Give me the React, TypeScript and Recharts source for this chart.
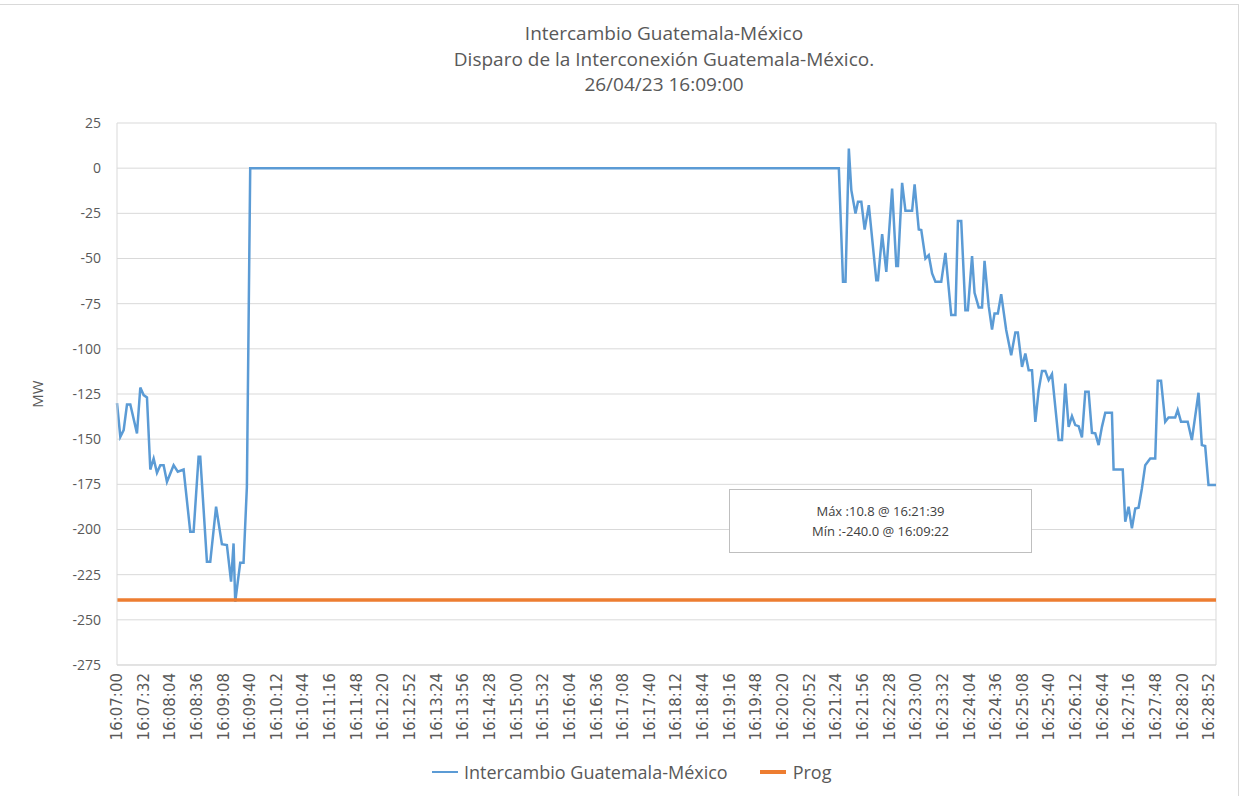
import { LineChart, Line, XAxis, YAxis, CartesianGrid, ReferenceLine } from "recharts";

// time stamps of the points (HH:MM:SS)
const times = [
  "16:07:00", "16:07:04", "16:07:08", "16:07:12", "16:07:16", "16:07:24", "16:07:28", "16:07:32",
  "16:07:36", "16:07:40", "16:07:44", "16:07:48", "16:07:52", "16:07:56", "16:08:00", "16:08:08",
  "16:08:13", "16:08:20", "16:08:28", "16:08:32", "16:08:38", "16:08:40", "16:08:48", "16:08:52",
  "16:08:59", "16:09:06", "16:09:12", "16:09:17", "16:09:20", "16:09:22", "16:09:28", "16:09:32",
  "16:09:36", "16:09:40", "16:21:27", "16:21:32", "16:21:35", "16:21:39", "16:21:42", "16:21:47",
  "16:21:50", "16:21:54", "16:21:58", "16:22:03", "16:22:12", "16:22:14", "16:22:19", "16:22:24",
  "16:22:31", "16:22:36", "16:22:38", "16:22:43", "16:22:47", "16:22:55", "16:22:58", "16:23:03",
  "16:23:06", "16:23:11", "16:23:15", "16:23:19", "16:23:23", "16:23:30", "16:23:35", "16:23:42",
  "16:23:47", "16:23:50", "16:23:54", "16:23:59", "16:24:02", "16:24:07", "16:24:10", "16:24:15",
  "16:24:19", "16:24:22", "16:24:27", "16:24:31", "16:24:34", "16:24:38", "16:24:42", "16:24:48",
  "16:24:54", "16:24:59", "16:25:02", "16:25:07", "16:25:11", "16:25:15", "16:25:19", "16:25:23",
  "16:25:27", "16:25:31", "16:25:35", "16:25:39", "16:25:43", "16:25:51", "16:25:55", "16:25:59",
  "16:26:03", "16:26:07", "16:26:11", "16:26:15", "16:26:19", "16:26:23", "16:26:27", "16:26:31",
  "16:26:35", "16:26:39", "16:26:43", "16:26:47", "16:26:55", "16:26:57", "16:27:08", "16:27:11",
  "16:27:15", "16:27:19", "16:27:23", "16:27:27", "16:27:31", "16:27:35", "16:27:41", "16:27:47",
  "16:27:50", "16:27:54", "16:27:59", "16:28:03", "16:28:11", "16:28:14", "16:28:18", "16:28:26",
  "16:28:31", "16:28:39", "16:28:43", "16:28:47", "16:28:51", "16:29:00"
];

// Intercambio Guatemala-México (MW)
const intercambio = [
  -130, -148.7, -145, -130.8, -130.8, -146.8, -121.4, -125.6,
  -126.9, -166.8, -160.7, -168.6, -164.4, -164.4, -173.6, -164.4,
  -168, -166.8, -201.3, -201.3, -159.7, -159.7, -217.9, -217.9,
  -187.4, -208.1, -208.6, -228.9, -207.7, -240, -218.4, -218.4,
  -176.4, 0, 0, -62.9, -62.9, 10.8, -12.2, -25.1,
  -18.6, -18.6, -34, -20.5, -62, -62, -36.5, -57.4,
  -11.3, -54.2, -54.2, -8.1, -23.6, -23.6, -8.9, -34,
  -34.3, -50, -48.1, -58.3, -62.9, -62.9, -46.9, -81.3,
  -81.3, -29.3, -29.3, -78.6, -78.6, -48.7, -69, -77.1,
  -77.1, -51.3, -76.4, -89.3, -80.4, -80.4, -69.7, -89.6,
  -103.5, -90.9, -90.9, -110, -102.6, -111.8, -111.8, -140.4,
  -122.9, -112.2, -112.2, -117.3, -114, -150.5, -150.5, -119.2,
  -143.2, -137.2, -142.2, -142.8, -149, -123.8, -123.8, -146.5,
  -146.8, -153.3, -143.2, -135.4, -135.4, -166.8, -166.8, -195.7,
  -187.4, -199.4, -188.4, -188, -177.3, -164.4, -160.7, -160.7,
  -117.7, -117.7, -140.4, -138, -138, -133.9, -140.4, -140.4,
  -150.5, -124.3, -153.3, -153.8, -175.4, -175.4
];

// Prog (MW)
const progTimes = ["16:07:00", "16:29:00"];
const progValues = [-239, -239];

const tickLabels = [
  "16:07:00", "16:07:32", "16:08:04", "16:08:36", "16:09:08", "16:09:40", "16:10:12", "16:10:44",
  "16:11:16", "16:11:48", "16:12:20", "16:12:52", "16:13:24", "16:13:56", "16:14:28", "16:15:00",
  "16:15:32", "16:16:04", "16:16:36", "16:17:08", "16:17:40", "16:18:12", "16:18:44", "16:19:16",
  "16:19:48", "16:20:20", "16:20:52", "16:21:24", "16:21:56", "16:22:28", "16:23:00", "16:23:32",
  "16:24:04", "16:24:36", "16:25:08", "16:25:40", "16:26:12", "16:26:44", "16:27:16", "16:27:48",
  "16:28:20", "16:28:52"
];

const yTicks = [25, 0, -25, -50, -75, -100, -125, -150, -175, -200, -225, -250, -275];

const START = "16:07:00";
const END = "16:29:00";

const toSec = (s: string) => {
  const [h, m, sec] = s.split(":").map(Number);
  return h * 3600 + m * 60 + sec;
};
const base = toSec(START);
const rel = (s: string) => toSec(s) - base;

const toLabel = (v: number) => {
  const t = base + v;
  const h = Math.floor(t / 3600);
  const m = Math.floor((t % 3600) / 60);
  const s = t % 60;
  const p = (n: number) => String(n).padStart(2, "0");
  return `${p(h)}:${p(m)}:${p(s)}`;
};

const mainData = times.map((t, i) => ({ t: rel(t), mw: intercambio[i] }));
const progData = progTimes.map((t, i) => ({ t: rel(t), prog: progValues[i] }));
const xTicks = tickLabels.map(rel);

const GREY = "#595959";
const GRID = "#d9d9d9";
const BLUE = "#5b9bd5";
const ORANGE = "#ed7d31";

const TimeTick = (props: any) => {
  const { x, y, payload } = props;
  return (
    <text
      x={x}
      y={y}
      transform={`rotate(-90, ${x}, ${y})`}
      textAnchor="end"
      dominantBaseline="central"
      fill={GREY}
      fontSize={15}
      fontFamily="DejaVu Sans"
    >
      {toLabel(payload.value)}
    </text>
  );
};

export default function App() {
  return (
    <div
      style={{
        position: "absolute",
        left: 0,
        top: 0,
        width: 1243,
        height: 797,
        background: "#fff",
        fontFamily: "'Open Sans', sans-serif",
        color: GREY
      }}
    >
      {/* chart frame */}
      <div
        style={{
          position: "absolute",
          left: 0,
          top: 4,
          width: 1239,
          height: 792,
          borderTop: `1px solid ${GRID}`,
          borderRight: `1px solid ${GRID}`,
          boxSizing: "border-box"
        }}
      />

      {/* title */}
      <div style={{ position: "absolute", left: 0, top: 21, width: 1328, textAlign: "center", fontSize: 19, lineHeight: "25.5px" }}>
        <div>Intercambio Guatemala-México</div>
        <div>Disparo de la Interconexión Guatemala-México.</div>
        <div>26/04/23 16:09:00</div>
      </div>

      <LineChart width={1243} height={797} data={mainData} margin={{ top: 123, right: 27, bottom: 42, left: 57 }}>
        <CartesianGrid vertical={false} stroke={GRID} />
        <XAxis
          dataKey="t"
          type="number"
          domain={[0, rel(END)]}
          ticks={xTicks}
          interval={0}
          height={90}
          tick={<TimeTick />}
          tickLine={false}
          axisLine={{ stroke: GRID }}
          allowDuplicatedCategory={false}
        />
        <YAxis
          width={60}
          domain={[-275, 25]}
          ticks={yTicks}
          interval={0}
          tickLine={false}
          axisLine={{ stroke: GRID }}
          tick={{ fill: GREY, fontSize: 14, fontFamily: "'Open Sans', sans-serif" }}
          tickMargin={10}
        />
        <ReferenceLine x={rel(END)} stroke={GRID} />
        <Line
          data={mainData}
          dataKey="mw"
          type="linear"
          stroke={BLUE}
          strokeWidth={2.5}
          dot={false}
          isAnimationActive={false}
        />
        <Line
          data={progData}
          dataKey="prog"
          type="linear"
          stroke={ORANGE}
          strokeWidth={3.5}
          dot={false}
          isAnimationActive={false}
        />
      </LineChart>

      {/* y axis title */}
      <div
        style={{
          position: "absolute",
          left: 22,
          top: 384,
          width: 30,
          textAlign: "center",
          fontSize: 15,
          transform: "rotate(-90deg)"
        }}
      >
        MW
      </div>

      {/* max / min note */}
      <div
        style={{
          position: "absolute",
          left: 729,
          top: 489,
          width: 303,
          height: 64,
          boxSizing: "border-box",
          border: "1px solid #bfbfbf",
          background: "#fff",
          textAlign: "center",
          fontSize: 13,
          lineHeight: "20px",
          paddingTop: 11,
          color: "#404040"
        }}
      >
        <div>Máx :10.8 @ 16:21:39</div>
        <div>Mín :-240.0 @ 16:09:22</div>
      </div>

      {/* legend */}
      <div style={{ position: "absolute", top: 760, left: 432, display: "flex", alignItems: "center", fontSize: 18, whiteSpace: "nowrap" }}>
        <span style={{ display: "inline-block", width: 26, height: 2.5, background: BLUE, marginRight: 6 }} />
        <span>Intercambio Guatemala-México</span>
        <span style={{ display: "inline-block", width: 26, height: 4, background: ORANGE, marginLeft: 32, marginRight: 7 }} />
        <span>Prog</span>
      </div>
    </div>
  );
}
